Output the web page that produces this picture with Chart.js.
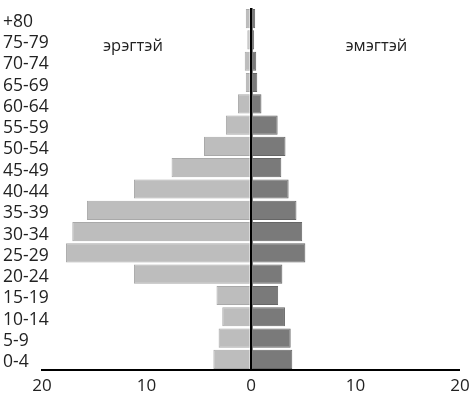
<!DOCTYPE html>
<html>
<head>
<meta charset="utf-8">
<script src="https://cdn.jsdelivr.net/npm/chart.js@4"></script>
<style>
  html, body { margin: 0; padding: 0; background: #ffffff; }
  #wrap { width: 476px; height: 407px; position: relative; }
</style>
</head>
<body>
<div id="wrap"><canvas id="c"></canvas></div>
<script>
const ageGroups = ['+80','75-79','70-74','65-69','60-64','55-59','50-54','45-49','40-44','35-39','30-34','25-29','20-24','15-19','10-14','5-9','0-4'];
const maleValues = [0.5,0.35,0.6,0.5,1.25,2.4,4.5,7.6,11.2,15.7,17.1,17.7,11.2,3.3,2.75,3.1,3.6];
const femaleValues = [0.4,0.3,0.5,0.6,1.0,2.55,3.3,2.9,3.6,4.35,4.9,5.2,3.0,2.6,3.25,3.8,3.95];
const xTicks = [-20,-10,0,10,20];
const maleLabel = 'эрэгтэй';
const femaleLabel = 'эмэгтэй';

const sideLabels = {
  id: 'sideLabels',
  afterDatasetsDraw(chart) {
    const {ctx, scales} = chart;
    const y = scales.y.top + 38;
    ctx.save();
    ctx.font = '16.5px "Open Sans"';
    ctx.fillStyle = '#222';
    ctx.textAlign = 'center';
    ctx.textBaseline = 'middle';
    ctx.fillText(maleLabel, scales.x.getPixelForValue(-11.3), y);
    ctx.fillText(femaleLabel, scales.x.getPixelForValue(12), y);
    ctx.restore();
  }
};

new Chart(document.getElementById('c'), {
  type: 'bar',
  data: {
    labels: ageGroups,
    datasets: [
      {
        label: maleLabel,
        data: maleValues.map(v => -v),
        backgroundColor: '#bdbdbd',
        borderColor: '#a9a9a9',
        borderWidth: 1,
        categoryPercentage: 0.9,
        barPercentage: 1.0
      },
      {
        label: femaleLabel,
        data: femaleValues,
        backgroundColor: '#7a7a7a',
        borderColor: '#666666',
        borderWidth: 1,
        categoryPercentage: 0.9,
        barPercentage: 1.0
      }
    ]
  },
  options: {
    indexAxis: 'y',
    responsive: true,
    maintainAspectRatio: false,
    animation: false,
    layout: { padding: { top: 8, right: 16, left: 0, bottom: 0 } },
    plugins: { legend: { display: false }, tooltip: { enabled: false } },
    scales: {
      x: {
        stacked: true,
        min: -20, max: 20,
        afterBuildTicks(scale) { scale.ticks = xTicks.map(v => ({ value: v })); },
        afterFit(scale) { scale.height = 37; },
        ticks: {
          callback: v => String(Math.abs(v)),
          color: '#222',
          font: { family: 'Open Sans', size: 17 },
          padding: 6,
          maxRotation: 0
        },
        grid: {
          drawTicks: false,
          color: ctx => (ctx.tick && ctx.tick.value === 0) ? '#000' : 'rgba(0,0,0,0)',
          lineWidth: ctx => (ctx.tick && ctx.tick.value === 0) ? 2.5 : 0
        },
        border: { display: true, color: '#000', width: 2 }
      },
      y: {
        stacked: true,
        afterFit(scale) { scale.width = 42; },
        ticks: {
          color: '#222',
          font: { family: 'Open Sans', size: 17.5 },
          mirror: true,
          crossAlign: 'near',
          padding: -39,
          labelOffset: 3,
          autoSkip: false,
          z: 1
        },
        grid: { display: false, drawTicks: false },
        border: { display: false }
      }
    }
  },
  plugins: [sideLabels]
});
</script>
</body>
</html>
